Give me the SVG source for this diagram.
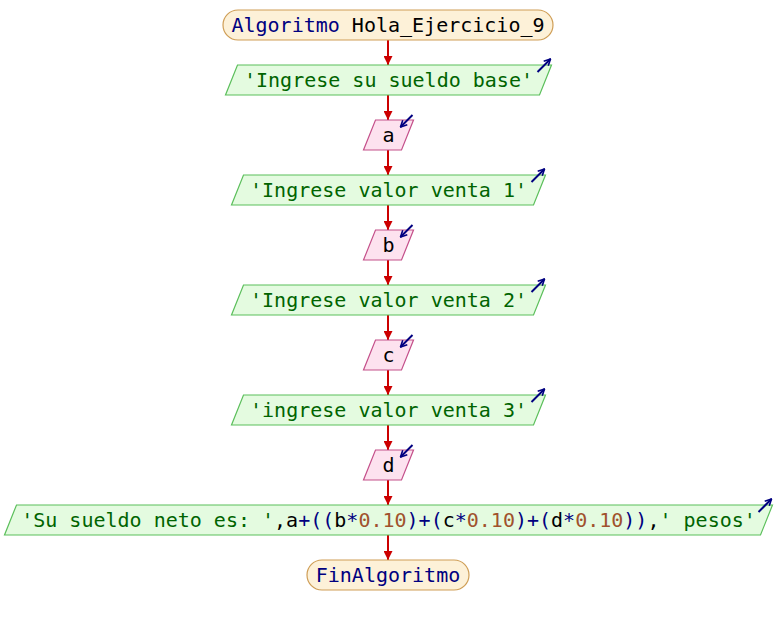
<svg xmlns="http://www.w3.org/2000/svg" width="776" height="625" viewBox="0 0 776 625">
<style>
text{font-family:"DejaVu Sans Mono","Liberation Mono",monospace;font-size:20px;text-anchor:middle;white-space:pre}
.term{fill:#fdf1d8;stroke:#cf9e56;stroke-width:1.2}
.out{fill:#e4fbe0;stroke:#5bbf5b;stroke-width:1.2}
.in{fill:#fde2ef;stroke:#c4508a;stroke-width:1.2}
.kw{fill:#000080}
.str{fill:#006400}
.num{fill:#a0522d}
.var{fill:#000000}
.op{fill:#000080}
.conn{stroke:#cc0000;stroke-width:2;fill:none}
.icon{stroke:#000080;stroke-width:2;fill:none}
</style>
<defs>
<marker id="ah" viewBox="0 0 10 10" refX="10" refY="5" markerWidth="10" markerHeight="9" markerUnits="userSpaceOnUse" orient="auto">
<path d="M0,0 L10,5 L0,10 Z" fill="#cc0000"/>
</marker>
<marker id="ih" viewBox="0 0 10 10" refX="9" refY="5" markerWidth="8" markerHeight="8" markerUnits="userSpaceOnUse" orient="auto">
<path d="M1,1 L9,5 L1,9" fill="none" stroke="#000080" stroke-width="2"/>
</marker>
</defs>
<g id="connectors">
<line class="conn" x1="388" y1="40" x2="388" y2="65" marker-end="url(#ah)"/>
<line class="conn" x1="388" y1="95" x2="388" y2="120" marker-end="url(#ah)"/>
<line class="conn" x1="388" y1="150" x2="388" y2="175" marker-end="url(#ah)"/>
<line class="conn" x1="388" y1="205" x2="388" y2="230" marker-end="url(#ah)"/>
<line class="conn" x1="388" y1="260" x2="388" y2="285" marker-end="url(#ah)"/>
<line class="conn" x1="388" y1="315" x2="388" y2="340" marker-end="url(#ah)"/>
<line class="conn" x1="388" y1="370" x2="388" y2="395" marker-end="url(#ah)"/>
<line class="conn" x1="388" y1="425" x2="388" y2="450" marker-end="url(#ah)"/>
<line class="conn" x1="388" y1="480" x2="388" y2="505" marker-end="url(#ah)"/>
<line class="conn" x1="388" y1="535" x2="388" y2="560" marker-end="url(#ah)"/>
</g>
<g id="start">
<rect class="term" x="223" y="10" width="330" height="30" rx="15"/>
<text x="388" y="32"><tspan class="kw">Algoritmo</tspan><tspan class="var"> Hola_Ejercicio_9</tspan></text>
</g>
<g id="out1">
<polygon class="out" points="237.5,65 551.5,65 539.5,95 225.5,95"/>
<text x="388.5" y="87" class="str">'Ingrese su sueldo base'</text>
<line class="icon" x1="537.5" y1="72" x2="550.5" y2="59" marker-end="url(#ih)"/>
</g>
<g id="in_a">
<polygon class="in" points="375.5,120 413.5,120 401.5,150 363.5,150"/>
<text x="388.5" y="142" class="var">a</text>
<line class="icon" x1="412.5" y1="115" x2="400.5" y2="127" marker-end="url(#ih)"/>
</g>
<g id="out2">
<polygon class="out" points="243.5,175 545.5,175 533.5,205 231.5,205"/>
<text x="388.5" y="197" class="str">'Ingrese valor venta 1'</text>
<line class="icon" x1="531.5" y1="182" x2="544.5" y2="169" marker-end="url(#ih)"/>
</g>
<g id="in_b">
<polygon class="in" points="375.5,230 413.5,230 401.5,260 363.5,260"/>
<text x="388.5" y="252" class="var">b</text>
<line class="icon" x1="412.5" y1="225" x2="400.5" y2="237" marker-end="url(#ih)"/>
</g>
<g id="out3">
<polygon class="out" points="243.5,285 545.5,285 533.5,315 231.5,315"/>
<text x="388.5" y="307" class="str">'Ingrese valor venta 2'</text>
<line class="icon" x1="531.5" y1="292" x2="544.5" y2="279" marker-end="url(#ih)"/>
</g>
<g id="in_c">
<polygon class="in" points="375.5,340 413.5,340 401.5,370 363.5,370"/>
<text x="388.5" y="362" class="var">c</text>
<line class="icon" x1="412.5" y1="335" x2="400.5" y2="347" marker-end="url(#ih)"/>
</g>
<g id="out4">
<polygon class="out" points="243.5,395 545.5,395 533.5,425 231.5,425"/>
<text x="388.5" y="417" class="str">'ingrese valor venta 3'</text>
<line class="icon" x1="531.5" y1="402" x2="544.5" y2="389" marker-end="url(#ih)"/>
</g>
<g id="in_d">
<polygon class="in" points="375.5,450 413.5,450 401.5,480 363.5,480"/>
<text x="388.5" y="472" class="var">d</text>
<line class="icon" x1="412.5" y1="445" x2="400.5" y2="457" marker-end="url(#ih)"/>
</g>
<g id="out5">
<polygon class="out" points="16.5,505 772.5,505 760.5,535 4.5,535"/>
<text x="388.5" y="527"><tspan class="str">'Su sueldo neto es: '</tspan><tspan class="var">,a</tspan><tspan class="op">+((</tspan><tspan class="var">b</tspan><tspan class="op">*</tspan><tspan class="num">0.10</tspan><tspan class="op">)+(</tspan><tspan class="var">c</tspan><tspan class="op">*</tspan><tspan class="num">0.10</tspan><tspan class="op">)+(</tspan><tspan class="var">d</tspan><tspan class="op">*</tspan><tspan class="num">0.10</tspan><tspan class="op">))</tspan><tspan class="var">,</tspan><tspan class="str">' pesos'</tspan></text>
<line class="icon" x1="758.5" y1="512" x2="771.5" y2="499" marker-end="url(#ih)"/>
</g>
<g id="end">
<rect class="term" x="307" y="560" width="162" height="30" rx="15"/>
<text x="388" y="582" class="kw">FinAlgoritmo</text>
</g>
</svg>
